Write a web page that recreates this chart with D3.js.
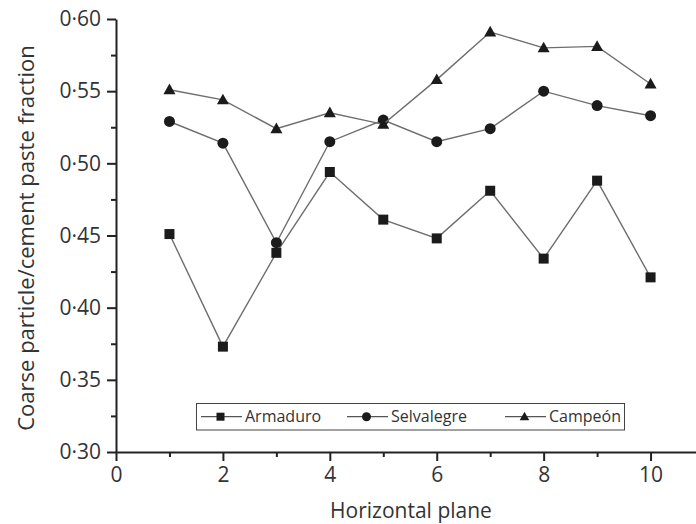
<!DOCTYPE html>
<html>
<head>
<meta charset="utf-8">
<script src="https://cdn.jsdelivr.net/npm/d3@7"></script>
<style>
  html, body { margin: 0; padding: 0; background: #fff; }
  svg { display: block; }
  text { font-family: "Open Sans", "Noto Sans", sans-serif; fill: #333; }
</style>
</head>
<body>
<svg id="chart" width="696" height="524"></svg>
<script>
// Horizontal plane index
const planes = [1, 2, 3, 4, 5, 6, 7, 8, 9, 10];

// Coarse particle / cement paste fraction per aggregate source
const armaduro   = [0.451, 0.373, 0.438, 0.494, 0.461, 0.448, 0.481, 0.434, 0.488, 0.421];
const selvalegre = [0.529, 0.514, 0.445, 0.515, 0.530, 0.515, 0.524, 0.550, 0.540, 0.533];
const campeon    = [0.551, 0.544, 0.524, 0.535, 0.527, 0.558, 0.591, 0.580, 0.581, 0.555];

const seriesNames = ["Armaduro", "Selvalegre", "Campeón"];
const seriesSymbols = ["square", "circle", "triangle"];

// Axis ticks
const xMajorTicks = [0, 2, 4, 6, 8, 10];
const xMinorTicks = [1, 3, 5, 7, 9];
const yMajorTicks = [0.30, 0.35, 0.40, 0.45, 0.50, 0.55, 0.60];
const yMinorTicks = [0.325, 0.375, 0.425, 0.475, 0.525, 0.575];

const svg = d3.select("#chart");

const x = d3.scaleLinear().domain([0, 10.85]).range([116, 696]);
const y = d3.scaleLinear().domain([0.30, 0.60]).range([452, 19]);

const fmt = v => d3.format(".2f")(v).replace(".", "·");

// Minor ticks
svg.append("g")
  .attr("transform", `translate(0,${y(0.30)})`)
  .call(d3.axisBottom(x).tickValues(xMinorTicks).tickSize(5).tickSizeOuter(0).tickFormat(""))
  .call(g => g.select(".domain").remove())
  .call(g => g.selectAll("line").attr("stroke", "#222").attr("stroke-width", 2));
svg.append("g")
  .attr("transform", `translate(${x(0)},0)`)
  .call(d3.axisLeft(y).tickValues(yMinorTicks).tickSize(5).tickSizeOuter(0).tickFormat(""))
  .call(g => g.select(".domain").remove())
  .call(g => g.selectAll("line").attr("stroke", "#222").attr("stroke-width", 2));

// Major axes
svg.append("g")
  .attr("transform", `translate(0,${y(0.30)})`)
  .call(d3.axisBottom(x).tickValues(xMajorTicks).tickSize(9).tickSizeOuter(0).tickPadding(6).tickFormat(d3.format("d")))
  .call(g => g.select(".domain").attr("stroke", "#222").attr("stroke-width", 2))
  .call(g => g.selectAll("line").attr("stroke", "#222").attr("stroke-width", 2))
  .call(g => g.selectAll("text").attr("font-size", 21).attr("fill", "#333")
    .attr("font-family", "'Open Sans', sans-serif"));

svg.append("g")
  .attr("transform", `translate(${x(0)},0)`)
  .call(d3.axisLeft(y).tickValues(yMajorTicks).tickSize(9).tickSizeOuter(0).tickPadding(6).tickFormat(fmt))
  .call(g => g.select(".domain").attr("stroke", "#222").attr("stroke-width", 2))
  .call(g => g.selectAll("line").attr("stroke", "#222").attr("stroke-width", 2))
  .call(g => g.selectAll("text").attr("font-size", 21).attr("fill", "#333")
    .attr("font-family", "'Open Sans', sans-serif"));

// Axis titles
svg.append("text")
  .attr("x", 411).attr("y", 518)
  .attr("text-anchor", "middle")
  .attr("font-size", 21)
  .text("Horizontal plane");

svg.append("text")
  .attr("transform", "translate(34,238) rotate(-90)")
  .attr("text-anchor", "middle")
  .attr("font-size", 22)
  .text("Coarse particle/cement paste fraction");

// Marker drawing
function drawMarker(g, kind, cx, cy, s) {
  if (kind === "square") {
    g.append("rect")
      .attr("x", cx - s / 2).attr("y", cy - s / 2)
      .attr("width", s).attr("height", s)
      .attr("fill", "#1b1b1b");
  } else if (kind === "circle") {
    g.append("circle")
      .attr("cx", cx).attr("cy", cy).attr("r", s / 2 + 0.5)
      .attr("fill", "#1b1b1b");
  } else {
    const h = s * 1.0;
    const w = s * 1.2;
    g.append("path")
      .attr("d", `M${cx},${cy - h * 0.62}L${cx + w / 2},${cy + h * 0.45}L${cx - w / 2},${cy + h * 0.45}Z`)
      .attr("fill", "#1b1b1b");
  }
}

const allSeries = [armaduro, selvalegre, campeon];
const line = d3.line().x((d, i) => x(planes[i])).y(d => y(d));

allSeries.forEach((vals, si) => {
  const g = svg.append("g");
  g.append("path")
    .attr("d", line(vals))
    .attr("fill", "none")
    .attr("stroke", "#6e6e6e")
    .attr("stroke-width", 1.4);
  vals.forEach((v, i) => drawMarker(g, seriesSymbols[si], x(planes[i]), y(v), 10));
});

// Legend
const legend = svg.append("g");
legend.append("rect")
  .attr("x", 196.5).attr("y", 403.5)
  .attr("width", 428).attr("height", 26.5)
  .attr("fill", "#fff")
  .attr("stroke", "#444").attr("stroke-width", 1);

const legendX = [201, 347, 505];
const legendCy = 416.7;
seriesNames.forEach((name, i) => {
  const lx = legendX[i];
  legend.append("line")
    .attr("x1", lx).attr("x2", lx + 41)
    .attr("y1", legendCy).attr("y2", legendCy)
    .attr("stroke", "#555").attr("stroke-width", 1.3);
  drawMarker(legend, seriesSymbols[i], lx + 19.5, legendCy, 8);
  legend.append("text")
    .attr("x", lx + 44).attr("y", legendCy + 5.5)
    .attr("font-size", 16)
    .text(name);
});
</script>
</body>
</html>
